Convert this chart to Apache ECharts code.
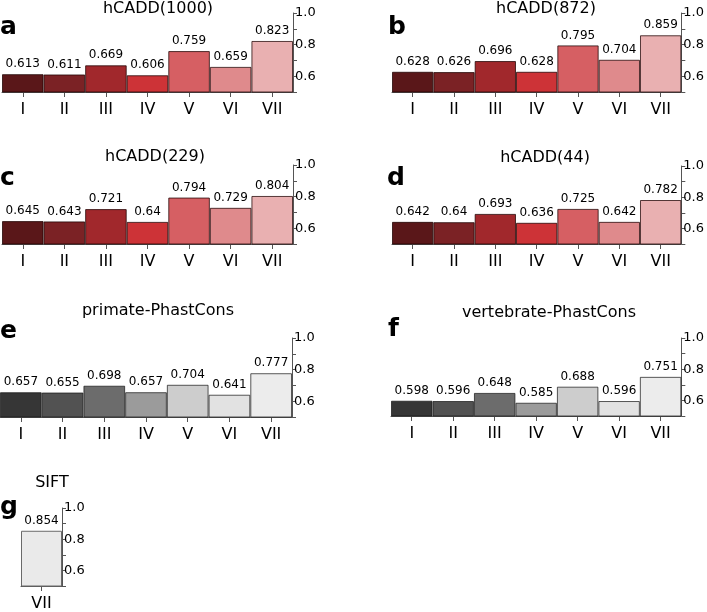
<!DOCTYPE html>
<html>
<head>
<meta charset="utf-8">
<script src="https://cdn.jsdelivr.net/npm/echarts@6/dist/echarts.min.js"></script>
<style>
  html, body { margin: 0; padding: 0; background: #fff; }
  #main { width: 707px; height: 612px; }
</style>
</head>
<body>
<div id="main"></div>
<script>
const chart = echarts.init(document.querySelector("#main"));

// data
const categories = ["I", "II", "III", "IV", "V", "VI", "VII"];
const hcadd1000 = [0.613, 0.611, 0.669, 0.606, 0.759, 0.659, 0.823];
const hcadd872 = [0.628, 0.626, 0.696, 0.628, 0.795, 0.704, 0.859];
const hcadd229 = [0.645, 0.643, 0.721, 0.64, 0.794, 0.729, 0.804];
const hcadd44 = [0.642, 0.64, 0.693, 0.636, 0.725, 0.642, 0.782];
const primatePhastCons = [0.657, 0.655, 0.698, 0.657, 0.704, 0.641, 0.777];
const vertebratePhastCons = [0.598, 0.596, 0.648, 0.585, 0.688, 0.596, 0.751];
const siftCategories = ["VII"];
const sift = [0.854];
const yTicks = [0.6, 0.8, 1.0];

// colours
const reds = ["#5a1719", "#7b2225", "#a1282c", "#cd3337", "#d65f63", "#df8a8c", "#e9b0b1"];
const grays = ["#363636", "#525252", "#6c6c6c", "#9b9b9b", "#cdcdcd", "#e2e2e2", "#ececec"];
const siftColor = ["#eaeaea"];

const font = "DejaVu Sans";

// panels: grid box + title + letter
const panels = [
    { title: "hCADD(1000)", letter: "a", data: hcadd1000, cats: categories, colors: reds, edge: "rgba(30,0,0,0.75)",
      left: 2, top: 13, width: 291, height: 79, tx: 158, ty: 9, lx: 0, ly: 27 },
    { title: "hCADD(872)", letter: "b", data: hcadd872, cats: categories, colors: reds, edge: "rgba(30,0,0,0.75)",
      left: 392, top: 13, width: 291, height: 79, tx: 546, ty: 9, lx: 388, ly: 27 },
    { title: "hCADD(229)", letter: "c", data: hcadd229, cats: categories, colors: reds, edge: "rgba(30,0,0,0.75)",
      left: 2, top: 165, width: 291, height: 79, tx: 155, ty: 157, lx: 0, ly: 178 },
    { title: "hCADD(44)", letter: "d", data: hcadd44, cats: categories, colors: reds, edge: "rgba(30,0,0,0.75)",
      left: 392, top: 166, width: 291, height: 78, tx: 545, ty: 158, lx: 387, ly: 178 },
    { title: "primate-PhastCons", letter: "e", data: primatePhastCons, cats: categories, colors: grays, edge: "rgba(20,20,20,0.7)",
      left: 0, top: 338, width: 292, height: 79, tx: 158, ty: 311, lx: 0, ly: 331 },
    { title: "vertebrate-PhastCons", letter: "f", data: vertebratePhastCons, cats: categories, colors: grays, edge: "rgba(20,20,20,0.7)",
      left: 391, top: 338, width: 292, height: 78, tx: 549, ty: 313, lx: 388, ly: 329 },
    { title: "SIFT", letter: "g", data: sift, cats: siftCategories, colors: siftColor, edge: "#6a6a6a",
      left: 21, top: 508, width: 41, height: 79, tx: 52, ty: 483, lx: 0, ly: 507 },
];

const axisColor = "#555";

let grids = [];
let xAxes = [];
let yAxes = [];
let series = [];
let graphics = [];

panels.forEach((p, i) => {
    grids.push({ left: p.left, top: p.top, width: p.width, height: p.height, containLabel: false });
    xAxes.push({
        type: "category",
        gridIndex: i,
        data: p.cats,
        axisLine: { show: true, lineStyle: { color: axisColor, width: 1 } },
        axisTick: { show: true, alignWithLabel: true, length: 5, lineStyle: { color: axisColor } },
        axisLabel: { fontSize: 16, color: "#000", fontFamily: font, margin: 10 },
    });
    yAxes.push({
        type: "value",
        gridIndex: i,
        position: "right",
        min: 0.5,
        max: 1.0,
        interval: 0.1,
        splitLine: { show: false },
        axisLine: { show: true, lineStyle: { color: axisColor, width: 1 } },
        axisTick: { show: true, length: 4, lineStyle: { color: axisColor } },
        axisLabel: {
            fontSize: 13,
            color: "#000",
            fontFamily: font,
            margin: 2,
            formatter: (v) => {
                let hit = yTicks.find((t) => Math.abs(t - v) < 1e-6);
                return hit !== undefined ? hit.toFixed(1) : "";
            },
        },
    });
    series.push({
        type: "bar",
        xAxisIndex: i,
        yAxisIndex: i,
        barCategoryGap: "0%",
        data: p.data.map((v, j) => ({
            value: v,
            itemStyle: { color: p.colors[j], borderColor: p.edge, borderWidth: 1 },
        })),
        label: {
            show: true,
            position: "top",
            distance: 4,
            fontSize: 12,
            color: "#000",
            fontFamily: font,
            formatter: (d) => String(d.value),
        },
        silent: true,
    });
    graphics.push({
        type: "text",
        x: p.tx,
        y: p.ty,
        style: { text: p.title, fontSize: 16, fontFamily: font, fill: "#000", align: "center", verticalAlign: "middle" },
    });
    graphics.push({
        type: "text",
        x: p.lx,
        y: p.ly,
        style: { text: p.letter, fontSize: 25, fontWeight: "bold", fontFamily: font, fill: "#000", align: "left", verticalAlign: "middle" },
    });
});

const option = {
    animation: false,
    backgroundColor: "#fff",
    grid: grids,
    xAxis: xAxes,
    yAxis: yAxes,
    series: series,
    graphic: graphics,
};

chart.setOption(option);
</script>
</body>
</html>
